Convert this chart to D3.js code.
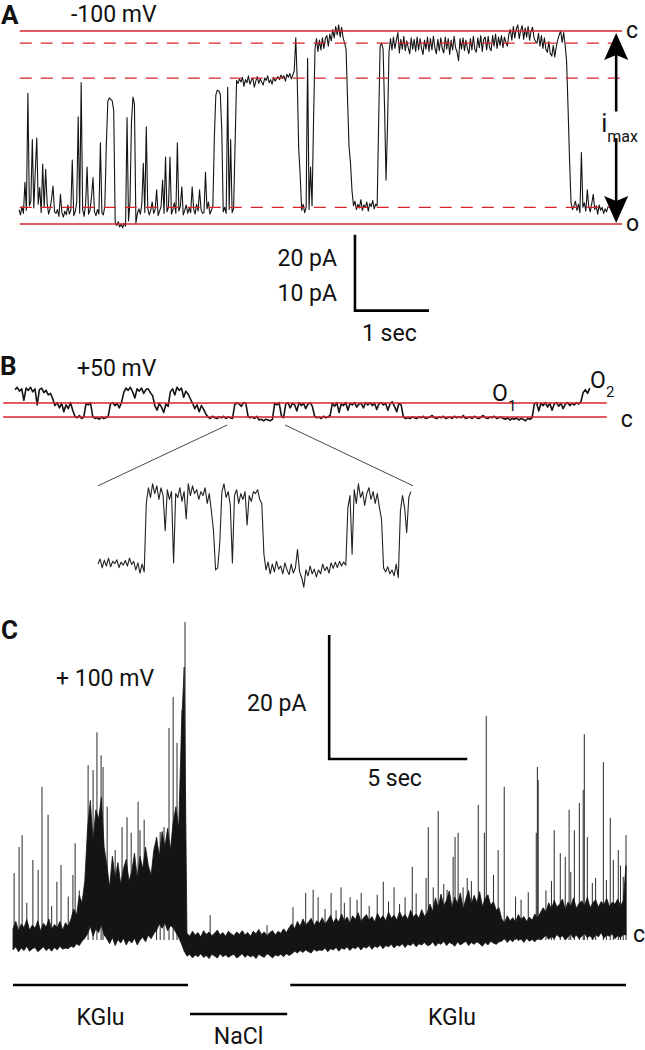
<!DOCTYPE html>
<html>
<head>
<meta charset="utf-8">
<script src="https://cdn.jsdelivr.net/npm/d3@7"></script>
<style>
  body { margin: 0; background: #fff; }
  svg { display: block; font-family: Roboto, "Open Sans", sans-serif; }
  .lbl { font-size: 23px; fill: #111; }
  .panel { font-size: 26px; font-weight: bold; fill: #111; }
</style>
</head>
<body>
<svg id="fig" width="645" height="1050"></svg>
<script>
"use strict";

// ---- Panel A, -100 mV: current (pA), one sample every 20 ms
const dtA = 0.02;
const traceA = [
  -23.5, -24.2, -23.1, -24.0, -19.9, -23.6, -8.2, -23.0, -22.4, -14.3, -23.3, -18.5, -14.1, -22.8, -20.6, -23.9, -17.5, -23.2, -18.2, -22.6, -24.1, -23.4, -22.1, -20.4, -23.8,
  -24.0, -23.5, -24.4, -21.5, -23.9, -24.5, -23.7, -24.2, -22.9, -24.1, -23.6, -17.0, -24.3, -23.8, -22.6, -11.3, -24.0, -6.8, -23.5, -24.4, -22.8, -17.9, -24.1, -23.6, -21.8,
  -19.3, -23.8, -24.3, -23.5, -24.1, -14.7, -23.9, -24.2, -23.0, -15.0, -9.3, -8.8, -9.0, -9.2, -10.5, -25.2, -25.6, -25.1, -25.8, -25.4, -25.9, -25.3, -25.7, -11.4, -25.0,
  -22.5, -12.0, -8.7, -9.6, -25.3, -24.0, -23.4, -24.1, -22.7, -17.4, -23.9, -12.6, -23.3, -24.2, -23.6, -22.5, -24.0, -23.5, -20.9, -24.3, -23.7, -23.1, -19.6, -24.0, -16.6,
  -23.8, -23.2, -16.6, -24.1, -23.5, -22.6, -24.0, -14.7, -23.7, -23.1, -20.5, -24.2, -23.6, -22.9, -24.0, -23.3, -23.9, -20.5, -23.4, -24.1, -22.8, -23.7, -20.9, -23.5, -24.0,
  -23.9, -18.6, -23.4, -22.5, -24.1, -23.6, -23.0, -14.0, -8.4, -7.8, -7.9, -8.3, -13.0, -23.8, -23.2, -24.0, -7.4, -23.5, -14.3, -23.9, -23.4, -15.0, -6.5, -6.9, -6.3,
  -6.7, -6.1, -7.3, -6.4, -6.8, -5.9, -7.0, -6.5, -6.2, -7.4, -6.6, -6.0, -6.9, -6.3, -6.7, -7.1, -6.2, -6.5, -5.9, -6.8, -6.4, -7.0, -6.1, -6.6, -6.3,
  -6.0, -6.4, -5.8, -6.2, -5.9, -6.6, -5.7, -6.1, -5.6, -6.3, -5.8, -5.2, -0.9, -6.5, -15.5, -19.0, -23.6, -22.8, -23.9, -23.2, -3.6, -23.5, -17.9, -23.0, -12.0,
  -2.4, -1.0, -2.7, -1.2, -2.5, -0.9, -2.3, -1.0, -0.6, -2.0, -0.4, -1.3, 0.2, -0.9, 0.6, -0.5, 0.8, -0.8, 0.5, -0.9, -1.6, -2.4, -9.0, -15.2, -17.4,
  -21.0, -23.0, -22.4, -23.5, -22.8, -23.3, -22.2, -23.6, -22.9, -23.2, -22.5, -23.7, -22.7, -23.1, -22.3, -23.4, -22.8, -23.0, -12.0, -2.0, -1.6, -2.4, -10.0, -19.6, -12.5,
  -2.8, -1.0, -2.5, -0.8, -2.3, -1.2, -0.2, -2.9, -1.1, -2.4, -0.7, -2.6, -1.3, -2.2, -3.0, -0.9, -2.4, -1.1, -2.7, -0.8, -2.5, -1.0, -2.3, -3.1, -1.2,
  -2.4, -0.8, -2.7, -1.0, -2.5, -0.7, -2.2, -3.0, -1.1, -2.6, -0.9, -2.3, -2.9, -0.8, -2.4, -1.0, -3.1, -1.2, -2.5, -0.7, -2.2, -2.8, -3.9, -1.0, -2.4,
  -0.9, -2.6, -1.2, -2.3, -3.0, -1.0, -2.5, -0.7, -2.4, -2.8, -0.9, -2.2, -0.6, -2.7, -1.1, -0.8, -2.5, -0.7, -2.2, -2.6, -0.6, -2.0, -0.4, -2.3, -0.8,
  -1.9, -0.6, -2.2, -0.8, -1.5, -2.0, -0.4, 0.2, -1.2, 0.6, -0.9, 0.3, 0.8, -1.0, 0.1, 0.7, -1.1, 0.4, -0.8, 0.6, -1.2, 0.0, 0.5, -0.9, -1.4,
  -1.6, -0.3, -2.0, -0.6, -2.3, -0.9, -2.4, -2.8, -1.4, -3.0, -3.3, -1.9, -3.4, -2.1, -1.2, -0.5, 0.0, -1.5, -0.2, -1.8, -4.0, -10.2, -17.0, -22.6, -23.5,
  -23.0, -22.4, -23.6, -22.8, -23.9, -16.0, -23.2, -22.6, -23.7, -20.9, -23.1, -23.8, -22.7, -21.5, -23.5, -23.0, -24.1, -22.9, -23.6, -23.2, -24.0, -23.4, -23.8, -23.1
];
// conductance levels drawn in red (pA): c, two sublevels, o-sublevel, o
const levelsA = [0, -1.6, -6.2, -23.2, -25.4];
const dashedA = [false, true, true, true, false];
const spanA = [0.01, 8.15];

// ---- Panel B, +50 mV: current (pA), one sample every 30 ms
const dtB = 0.03;
const traceB = [
  3.6, 3.9, 3.4, 3.7, 2.2, 3.8, 3.5, 3.9, 3.3, 3.7, 1.6, 3.6, 3.8, 3.2, 3.5, 2.9, 3.1, 2.4, 1.5, 1.9,
  1.2, 1.8, 0.7, 1.6, 1.1, 1.9, 0.9, 0.1, -0.1, 0.2, -0.2, 0.0, 1.8, 1.6, 1.9, 0.1, -0.2, -0.1, -0.3, 0.0,
  -0.2, -0.1, 0.1, 1.7, 1.9, 1.5, 1.8, 1.2, 1.9, 3.2, 3.8, 3.5, 3.9, 3.3, 2.5, 3.7, 3.4, 3.8, 3.1, 3.6,
  3.7, 3.2, 2.8, 1.5, 0.9, 1.8, 1.3, 0.6, 1.7, 1.4, 3.3, 3.7, 2.9, 3.9, 3.5, 3.8, 2.6, 3.4, 3.0, 2.4,
  1.8, 1.1, 1.6, 0.7, 1.5, 1.0, 0.4, 0.0, -0.2, 0.1, -0.1, -0.2, 0.0, -0.1, 0.1, -0.2, 0.0, -0.1, -0.2, 1.6,
  1.9, 1.7, 1.4, 1.9, 1.8, 0.1, -0.1, 0.0, -0.2, 0.1, -0.4, -0.3, -0.5, -0.3, -0.4, -0.5, -0.3, 1.8, 1.6, 1.9,
  0.2, -0.1, 1.7, 1.9, 1.2, 1.8, 1.6, 0.8, 1.9, 1.5, 1.8, 1.1, 1.7, 1.9, 1.4, 0.1, -0.1, 0.0, -0.2, 0.1,
  -0.1, 0.0, 0.2, 1.8, 1.4, 1.9, 0.6, 1.7, 1.5, 1.9, 0.9, 1.8, 1.6, 1.9, 1.3, 1.7, 1.8, 1.2, 1.9, 1.6,
  1.9, 1.5, 1.8, 1.0, 1.7, 1.9, 1.6, 1.8, 0.9, 1.7, 2.0, 1.4, 0.7, 1.8, 1.6, 0.0, -0.2, -0.1, -0.2, 0.0,
  -0.1, -0.2, 0.0, -0.1, 0.1, -0.2, -0.1, 0.0, 0.2, -0.1, -0.2, 0.0, -0.1, 0.1, -0.2, -0.1, 0.0, -0.2, 0.1, -0.1,
  0.0, -0.1, 0.2, -0.2, -0.1, 0.0, -0.2, 0.1, -0.1, -0.2, 0.0, 0.2, -0.1, -0.2, 0.0, -0.1, 0.1, -0.2, -0.1, 0.0,
  -0.2, -0.3, -0.1, -0.4, -0.2, -0.3, -0.1, -0.4, -0.2, -0.3, -0.5, -0.2, -0.3, -0.1, 1.7, 1.9, 0.8, 1.8, 1.5, 1.9,
  1.3, 1.8, 0.9, 1.7, 1.9, 1.4, 1.8, 1.1, 1.7, 1.9, 1.5, 1.8, 1.6, 1.9, 1.7, 2.0, 3.2, 3.6, 3.1, 3.8
];
const levelsB = [0, 1.84];          // c, O1
const spanB = [-0.16, 8.0];
// expanded stretch of trace B, one sample every 5.2 ms
const zoomWinB = [2.87, 3.65];
const dtInset = 0.0052;
const insetB = [
  0.05, 0.18, -0.05, 0.15, 0.0, 0.2, -0.02, 0.12, 0.06, 0.16, -0.04, 0.1, 0.02, 0.14, 0.0,
  0.2, 0.04, 0.12, -0.1, 0.08, -0.18, 0.05, -0.15, 1.6, 2.0, 1.75, 2.1, 1.85, 2.05, 1.7,
  2.0, 1.8, 0.9, 1.95, 1.7, 1.9, 0.08, 1.85, 1.75, 2.0, 1.65, 1.9, 1.2, 2.1, 1.8,
  2.05, 1.85, 1.95, 1.7, 1.9, 1.8, 2.0, 1.6, 1.85, 1.4, 0.9, -0.1, -0.05, 0.6, 1.9,
  2.1, 1.75, 1.9, 1.55, 0.08, 1.8, 1.95, 1.6, 1.85, 1.7, 1.9, 1.05, 1.8, 1.65, 1.9,
  1.85, 1.95, 1.7, 1.6, 0.3, -0.1, 0.1, -0.2, 0.05, -0.15, 0.12, -0.08, 0.0, -0.2, 0.08,
  -0.1, -0.22, 0.05, -0.18, -0.05, 0.42, -0.15, -0.3, -0.54, -0.1, -0.25, 0.0, -0.2, -0.08, -0.28,
  -0.1, -0.2, 0.05, -0.12, -0.02, -0.18, 0.08, -0.06, 0.1, -0.04, 0.12, 0.0, 0.1, 0.02, 1.5,
  1.8, 0.3, 1.95, 1.6, 2.1, 1.75, 1.9, 1.55, 1.85, 2.0, 1.7, 1.9, 1.6, 1.85, 1.5,
  1.2, -0.05, -0.15, -0.02, -0.2, -0.1, -0.25, 0.05, -0.3, 1.4, 1.8, 1.5, 0.85, 1.75, 1.9
];

// ---- Panel C, +100 mV: edges of the dense trace (pA) every 0.1 s, plus single openings
const dtC = 0.1;
const bandHighC = [
  1.8, 3.0, 1.5, 2.6, 2.0, 3.3, 1.6, 2.4, 1.9, 3.1, 1.4, 2.7, 2.1, 3.4, 1.7, 2.5, 2.0, 3.0, 1.6, 2.8,
  2.2, 3.4, 5.0, 4.0, 7.2, 6.0, 9.5,
  18.0, 22.5, 16.0, 21.0, 19.5, 23.0, 15.0,
  12.0, 8.5, 13.5, 10.0, 12.5, 9.0, 11.5, 13.0, 9.5,
  11.0, 14.0, 10.0, 13.5, 11.5, 15.0, 12.0, 10.5, 14.5,
  16.5, 13.5, 17.5, 15.0, 18.0, 14.5,
  19.0, 21.5, 18.0,
  34.0, 44.0,
  1.1, 0.6, 1.4, 0.8, 1.2, 0.5, 1.5, 0.9, 1.3, 0.7, 1.1, 1.6, 0.8, 1.2, 0.6, 1.4, 1.0, 0.7, 1.3, 0.9,
  1.5, 0.8, 1.2, 0.6, 1.4, 1.0, 1.7, 0.9, 1.3, 0.7, 1.2, 1.5, 0.8, 1.4, 1.1, 1.8, 1.2, 2.0,
  2.6, 1.8, 3.0, 2.2, 3.4, 2.4, 2.9, 3.5, 2.3, 3.1, 2.7,
  3.6, 2.6, 3.2, 4.0, 2.8, 3.5, 2.9, 4.2, 3.1, 3.7, 2.7, 3.9, 3.3, 4.4, 3.0, 3.6, 4.1, 3.2, 3.8, 2.9,
  4.3, 3.4, 3.9, 3.1, 4.5, 3.5, 4.0, 3.2, 4.6, 3.6, 4.1, 3.3, 4.8, 3.7, 4.2, 3.5, 4.9, 3.8, 4.4,
  5.8, 4.6, 6.8, 5.2, 7.4, 5.5, 6.4, 7.9, 5.3, 6.9, 5.9, 7.6, 5.0, 6.6, 8.0, 5.7, 7.2, 6.0, 7.8, 5.4,
  6.7, 7.3, 5.6, 6.2, 4.8, 5.2,
  3.4, 2.8, 3.9, 3.1, 3.6, 2.9, 4.1, 3.3, 3.8, 3.0, 3.7, 3.2, 4.2, 3.5, 4.4,
  5.2, 4.5, 6.0, 5.0, 6.4, 5.3, 5.8, 6.6, 4.9, 6.1, 5.4, 6.8, 5.1, 5.9, 6.3, 5.5, 6.9, 5.2, 6.0, 6.5,
  5.3, 6.2, 5.7, 6.7, 5.4, 6.1, 5.8, 6.6, 5.5, 6.3,
  12.0
];
const bandLowC = [
  -1.6, -1.1, -1.9, -1.3, -1.7, -1.0, -1.8, -1.4, -1.2, -1.9, -1.5, -1.1, -1.7, -1.3, -1.8, -1.2, -1.6, -1.0, -1.5, -1.3,
  -1.4, -1.0, -1.2, -0.6, -0.9, -0.2, 0.3,
  1.0, 2.2, 0.6, 1.8, 1.2, 2.5, 0.8,
  0.2, -0.6, 0.4, -0.9, 0.1, -0.5, 0.3, -0.8, 0.0,
  -0.5, 0.3, -0.8, 0.0, 0.5, -0.3, 0.8, 0.2, 1.0,
  1.6, 2.6, 1.9, 2.8, 1.5, 2.3,
  2.0, 1.2, 0.4,
  -0.6, -1.8,
  -2.6, -2.3, -2.9, -2.4, -2.7, -2.2, -2.8, -2.5, -3.0, -2.3, -2.6, -2.9, -2.2, -2.7, -2.4, -2.8, -2.5, -2.3, -2.9, -2.6,
  -2.2, -2.8, -2.4, -2.7, -2.5, -3.0, -2.3, -2.6, -2.8, -2.2, -2.5, -2.9, -2.4, -2.6, -2.3, -2.7, -2.2, -2.5,
  -2.2, -1.8, -2.1, -1.7, -2.0, -1.6, -1.9, -2.1, -1.5, -1.8, -1.6,
  -1.7, -1.3, -1.9, -1.4, -1.6, -1.2, -1.8, -1.3, -1.5, -1.1, -1.7, -1.2, -1.4, -1.0, -1.6, -1.1, -1.3, -0.9, -1.5, -1.0,
  -1.2, -0.8, -1.4, -0.9, -1.1, -0.7, -1.3, -0.8, -1.0, -0.6, -1.2, -0.7, -0.9, -0.5, -1.1, -0.6, -0.8, -0.4, -0.9,
  -0.8, -0.3, -1.0, -0.5, -0.7, -0.2, -0.9, -0.4, -0.6, -1.0, -0.3, -0.8, -0.5, -0.2, -0.9, -0.4, -0.7, -0.3, -0.6, -1.0,
  -0.4, -0.8, -0.2, -0.5, -0.7, -0.3,
  -0.2, 0.3, -0.4, 0.1, -0.3, 0.4, -0.1, 0.2, -0.4, 0.3, -0.2, 0.1, -0.3, 0.4, 0.0,
  0.3, 0.8, 0.1, 0.6, 0.2, 0.9, 0.4, 0.7, 0.0, 0.5, 1.0, 0.3, 0.8, 0.2, 0.6, 1.1, 0.4, 0.7, 0.1, 0.9,
  0.5, 1.2, 0.3, 0.8, 0.6, 1.0, 0.2, 0.7, 0.4, 0.9,
  0.8
];
// [time (s), peak current (pA)]
const spikesC = [
  [0.04, 10.8], [0.22, 15.0], [0.33, 16.9], [0.5, 6.0], [0.72, 12.9], [0.91, 11.3], [1.05, 24.7],
  [1.27, 20.2], [1.4, 5.5], [1.59, 9.4], [1.74, 12.1], [2.0, 7.0], [2.17, 10.5], [2.25, 15.6], [2.4, 8.0],
  [2.72, 28.2], [2.9, 27.4], [3.04, 33.5], [3.19, 29.8], [3.26, 27.9], [3.41, 21.5], [3.7, 14.5],
  [3.95, 18.2], [4.13, 19.8], [4.28, 17.3], [4.53, 22.3], [4.6, 17.7], [4.75, 19.4], [5.2, 16.6],
  [5.33, 17.4], [5.47, 18.2], [5.65, 34.2], [5.8, 39.2], [5.94, 31.8], [6.12, 37.1], [6.23, 51.3],
  [7.14, 4.0], [8.33, 1.3], [9.2, 2.4], [10.14, 5.3], [10.6, 7.6], [10.87, 8.1], [11.05, 6.9],
  [11.3, 5.0], [11.52, 7.6], [11.7, 4.8], [11.88, 8.5], [12.0, 6.0], [12.21, 6.9], [12.46, 6.5],
  [12.61, 7.6], [12.9, 5.5], [13.19, 7.3], [13.41, 9.4], [13.6, 6.2], [13.8, 8.5], [14.0, 5.8],
  [14.2, 6.9], [14.46, 11.8], [14.6, 7.5], [14.96, 10.0], [15.04, 18.2], [15.22, 8.5], [15.4, 20.8],
  [15.6, 9.0], [15.72, 8.1], [15.94, 13.4], [16.01, 16.6], [16.12, 17.3], [16.3, 8.5], [16.45, 10.0],
  [16.6, 9.5], [16.85, 21.8], [17.07, 17.3], [17.14, 36.1], [17.4, 10.5], [17.57, 14.5], [17.79, 24.7],
  [18.2, 7.0], [18.4, 6.5], [18.66, 7.7], [18.95, 17.3], [18.99, 27.9], [19.02, 25.8], [19.3, 8.0],
  [19.5, 9.5], [19.6, 17.7], [19.82, 14.0], [20.0, 13.4], [20.14, 21.0], [20.2, 11.0], [20.33, 17.7],
  [20.51, 22.1], [20.65, 24.2], [20.69, 33.2], [20.8, 16.6], [20.98, 9.2], [21.1, 10.0], [21.38, 28.7],
  [21.49, 9.7], [21.63, 19.7], [21.74, 12.9], [21.92, 14.5], [22.0, 12.0], [22.1, 10.2], [22.2, 16.9]
];
const solutions = ["KGlu", "NaCl", "KGlu"];
const solStart = [0, 6.41, 10.04];
const solEnd = [6.34, 9.93, 22.2];
const solRow = [0, 1, 0];

(function() {
  window.addEventListener("load", init);

  const red = "#d8232a";
  const ink = "#141414";

  function init() {
    const svg = d3.select("#fig");
    drawPanelA(svg);
    drawPanelB(svg);
    drawPanelC(svg);
  }

  function traceLine(x, y, dt, t0) {
    return d3.line()
      .x((d, i) => x(t0 + i * dt))
      .y(d => y(d));
  }

  function scaleBar(g, x, y, t, v, dT, dV) {
    g.append("path")
      .attr("d", "M" + x(t) + "," + y(v + dV) + "V" + y(v) + "H" + x(t + dT))
      .attr("fill", "none")
      .attr("stroke", "#000")
      .attr("stroke-width", 2.6);
  }

  function drawPanelA(svg) {
    const x = d3.scaleLinear().domain([0, 8]).range([19, 611]);
    const y = d3.scaleLinear().domain([0, -25.4]).range([31, 224]);
    const g = svg.append("g");

    g.append("text").attr("class", "panel").attr("x", 1).attr("y", 24).text("A");
    g.append("text").attr("class", "lbl").attr("x", 71).attr("y", 22).text("-100 mV");

    g.append("path")
      .datum(traceA)
      .attr("d", traceLine(x, y, dtA, 0))
      .attr("fill", "none")
      .attr("stroke", ink)
      .attr("stroke-width", 1.1)
      .attr("stroke-linejoin", "round");

    g.selectAll("line.level")
      .data(levelsA)
      .join("line")
      .attr("class", "level")
      .attr("x1", x(spanA[0])).attr("x2", x(spanA[1]))
      .attr("y1", d => y(d)).attr("y2", d => y(d))
      .attr("stroke", red)
      .attr("stroke-width", 1.3)
      .attr("stroke-dasharray", (d, i) => dashedA[i] ? "12,9" : null);

    g.append("text").attr("class", "lbl").attr("x", x(spanA[1]) + 4).attr("y", y(0) + 7).text("c");
    g.append("text").attr("class", "lbl").attr("x", x(spanA[1]) + 4).attr("y", y(-25.4) + 7).text("o");

    // i max arrows
    const ax = x(8.07);
    const up = y(0) + 2, down = y(-25.4) - 1;
    g.append("line").attr("x1", ax).attr("x2", ax).attr("y1", up + 20).attr("y2", y(-10.6))
      .attr("stroke", "#000").attr("stroke-width", 2.6);
    g.append("path")
      .attr("d", "M" + ax + "," + up + "L" + (ax + 12) + "," + (up + 27) + "L" + ax + "," + (up + 22) +
        "L" + (ax - 12) + "," + (up + 27) + "Z")
      .attr("fill", "#000");
    g.append("line").attr("x1", ax).attr("x2", ax).attr("y1", y(-14.1)).attr("y2", down - 20)
      .attr("stroke", "#000").attr("stroke-width", 2.6);
    g.append("path")
      .attr("d", "M" + ax + "," + down + "L" + (ax + 12) + "," + (down - 27) + "L" + ax + "," + (down - 22) +
        "L" + (ax - 12) + "," + (down - 27) + "Z")
      .attr("fill", "#000");
    g.append("text").attr("class", "lbl").attr("x", ax - 15).attr("y", 132)
      .style("font-size", "25px").text("i");
    g.append("text").attr("class", "lbl").attr("x", ax - 9).attr("y", 142)
      .style("font-size", "16px").text("max");

    scaleBar(g, x, y, 4.54, -36.8, 1, 10);
    g.append("text").attr("class", "lbl").attr("text-anchor", "end")
      .attr("x", x(4.54) - 18).attr("y", 266).text("20 pA");
    g.append("text").attr("class", "lbl").attr("text-anchor", "end")
      .attr("x", x(4.54) - 18).attr("y", 301).text("10 pA");
    g.append("text").attr("class", "lbl")
      .attr("x", x(4.54) + 7).attr("y", 341).text("1 sec");
  }

  function drawPanelB(svg) {
    const x = d3.scaleLinear().domain([0, 7.8]).range([15, 592]);
    const y = d3.scaleLinear().domain([0, 1.84]).range([417, 403]);
    const xi = d3.scaleLinear().domain(zoomWinB).range([98, 413]);
    const yi = d3.scaleLinear().domain([0, 1.84]).range([566, 494]);
    const g = svg.append("g");

    g.append("text").attr("class", "panel").attr("x", 0).attr("y", 375).text("B");
    g.append("text").attr("class", "lbl").attr("x", 77).attr("y", 376).text("+50 mV");

    g.append("path")
      .datum(traceB)
      .attr("d", traceLine(x, y, dtB, 0))
      .attr("fill", "none")
      .attr("stroke", ink)
      .attr("stroke-width", 1.6)
      .attr("stroke-linejoin", "round");

    g.selectAll("line.level")
      .data(levelsB)
      .join("line")
      .attr("class", "level")
      .attr("x1", x(spanB[0])).attr("x2", x(spanB[1]))
      .attr("y1", d => y(d)).attr("y2", d => y(d))
      .attr("stroke", red)
      .attr("stroke-width", 1.3);

    g.append("text").attr("class", "lbl").attr("x", x(spanB[1]) + 14).attr("y", y(0) + 10).text("c");
    g.append("text").attr("class", "lbl").attr("x", 492).attr("y", y(1.84) - 2).text("O");
    g.append("text").attr("class", "lbl").attr("x", 508).attr("y", y(1.84) + 8)
      .style("font-size", "15px").text("1");
    g.append("text").attr("class", "lbl").attr("x", 590).attr("y", 388).text("O");
    g.append("text").attr("class", "lbl").attr("x", 606).attr("y", 397)
      .style("font-size", "15px").text("2");

    // expansion lines and expanded trace
    zoomWinB.forEach(t => {
      g.append("line")
        .attr("x1", x(t)).attr("y1", y(-1.05))
        .attr("x2", xi(t)).attr("y2", yi(2.05))
        .attr("stroke", "#333").attr("stroke-width", 0.9);
    });
    g.append("path")
      .datum(insetB)
      .attr("d", traceLine(xi, yi, dtInset, zoomWinB[0]))
      .attr("fill", "none")
      .attr("stroke", "#222")
      .attr("stroke-width", 1.1)
      .attr("stroke-linejoin", "round");
  }

  function drawPanelC(svg) {
    const x = d3.scaleLinear().domain([0, 22.2]).range([13, 626]);
    const y = d3.scaleLinear().domain([0, 20]).range([940, 816]);
    const g = svg.append("g");

    g.append("text").attr("class", "panel").attr("x", 1).attr("y", 639).text("C");
    g.append("text").attr("class", "lbl").attr("x", 56).attr("y", 686).text("+ 100 mV");

    g.selectAll("line.spike")
      .data(spikesC)
      .join("line")
      .attr("class", "spike")
      .attr("x1", d => x(d[0])).attr("x2", d => x(d[0]))
      .attr("y1", y(0)).attr("y2", d => y(d[1]))
      .attr("stroke", "#2a2a2a")
      .attr("stroke-width", 1);

    const band = d3.area()
      .x((d, i) => x(i * dtC))
      .y0((d, i) => y(bandLowC[i]))
      .y1(d => y(d));
    g.append("path")
      .datum(bandHighC)
      .attr("d", band)
      .attr("fill", ink)
      .attr("stroke", ink)
      .attr("stroke-width", 0.8);

    g.append("text").attr("class", "lbl").attr("x", x(22.2) + 7).attr("y", y(0) + 2).text("c");

    scaleBar(g, x, y, 11.45, 29.2, 5, 20);
    g.append("text").attr("class", "lbl").attr("x", 247).attr("y", 711).text("20 pA");
    g.append("text").attr("class", "lbl").attr("x", x(11.45) + 38).attr("y", 786).text("5 sec");

    // solution bars
    const rowY = [985, 1014];
    const labY = [1025, 1044];
    solutions.forEach((s, i) => {
      g.append("line")
        .attr("x1", x(solStart[i])).attr("x2", x(solEnd[i]))
        .attr("y1", rowY[solRow[i]]).attr("y2", rowY[solRow[i]])
        .attr("stroke", "#000").attr("stroke-width", 2.6);
      g.append("text").attr("class", "lbl").attr("text-anchor", "middle")
        .attr("x", i === 2 ? 452 : x((solStart[i] + solEnd[i]) / 2))
        .attr("y", labY[solRow[i]]).text(s);
    });
  }
})();
</script>
</body>
</html>
